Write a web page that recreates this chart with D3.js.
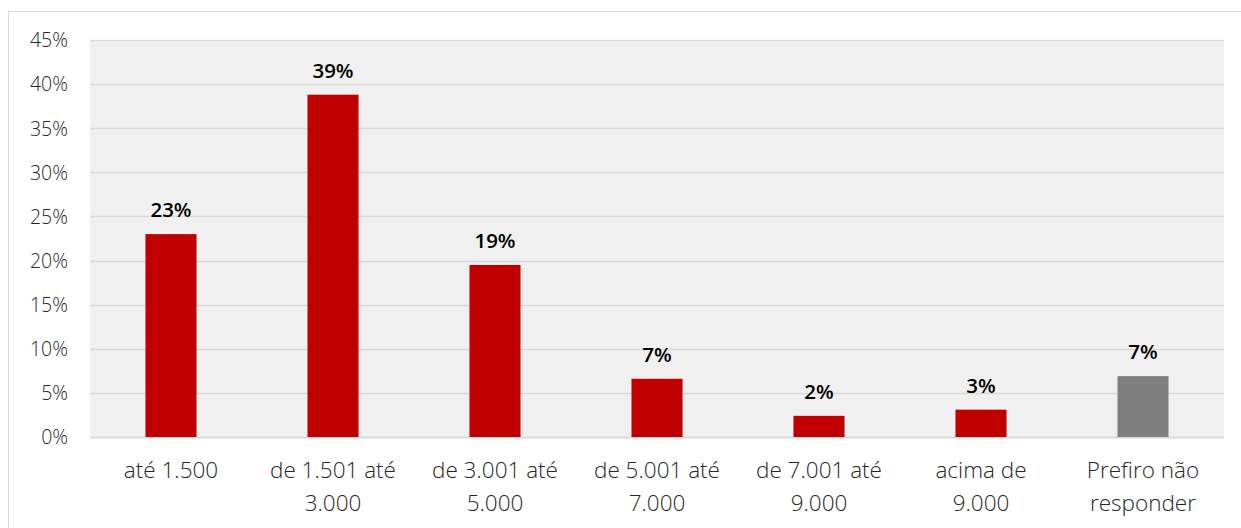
<!DOCTYPE html>
<html>
<head>
<meta charset="utf-8">
<script src="https://cdn.jsdelivr.net/npm/d3@7"></script>
<style>
  body { margin: 0; background: #fff; }
  svg { display: block; }
  .axis text { font-family: "Open Sans", sans-serif; font-weight: 300; fill: #262626; }
</style>
</head>
<body>
<script>
const categories = [
  ["até 1.500"],
  ["de 1.501 até", "3.000"],
  ["de 3.001 até", "5.000"],
  ["de 5.001 até", "7.000"],
  ["de 7.001 até", "9.000"],
  ["acima de", "9.000"],
  ["Prefiro não", "responder"]
];
const values = [23.0, 38.8, 19.5, 6.6, 2.4, 3.1, 6.9];
const labels = ["23%", "39%", "19%", "7%", "2%", "3%", "7%"];
const colors = ["#c00000", "#c00000", "#c00000", "#c00000", "#c00000", "#c00000", "#7f7f7f"];
const yTicks = [0, 5, 10, 15, 20, 25, 30, 35, 40, 45];

const w = 1241, h = 528;
const plot = { left: 90, right: 1224, top: 40, bottom: 437 };

const svg = d3.select("body").append("svg")
  .attr("width", w)
  .attr("height", h);

// chart frame
svg.append("rect")
  .attr("x", 8.5).attr("y", 11.5)
  .attr("width", 1240).attr("height", 530)
  .attr("fill", "none")
  .attr("stroke", "#d9d9d9");

const x = d3.scaleBand()
  .domain(d3.range(categories.length))
  .range([plot.left, plot.right])
  .paddingInner(0.685)
  .paddingOuter(0.3425);

const y = d3.scaleLinear()
  .domain([0, 45])
  .range([plot.bottom, plot.top]);

// plot background
svg.append("rect")
  .attr("x", plot.left).attr("y", plot.top)
  .attr("width", plot.right - plot.left)
  .attr("height", plot.bottom - plot.top)
  .attr("fill", "#f0f0f0");

// gridlines
svg.append("g")
  .selectAll("line")
  .data(yTicks)
  .enter()
  .append("line")
  .attr("x1", plot.left).attr("x2", plot.right)
  .attr("y1", d => Math.round(y(d)) + 0.5)
  .attr("y2", d => Math.round(y(d)) + 0.5)
  .attr("stroke", "#d9d9d9")
  .attr("stroke-width", d => d === 0 ? 2 : 1.5);

// y axis
const yAxis = d3.axisLeft(y).tickValues(yTicks).tickSize(0).tickPadding(22)
  .tickFormat(d => d + "%");
svg.append("g")
  .attr("class", "axis")
  .attr("transform", `translate(${plot.left},0)`)
  .call(yAxis)
  .call(g => g.select(".domain").remove())
  .selectAll("text")
  .attr("font-size", 19.5)
  .attr("dy", "0.35em");

// bars
svg.append("g")
  .selectAll("rect")
  .data(values)
  .enter()
  .append("rect")
  .attr("x", (d, i) => x(i))
  .attr("y", d => y(d))
  .attr("width", x.bandwidth())
  .attr("height", d => y(0) - y(d))
  .attr("fill", (d, i) => colors[i]);

// value labels
svg.append("g")
  .selectAll("text")
  .data(values)
  .enter()
  .append("text")
  .attr("x", (d, i) => x(i) + x.bandwidth() / 2)
  .attr("y", d => y(d) - 17)
  .attr("text-anchor", "middle")
  .attr("font-family", "'Open Sans', sans-serif")
  .attr("font-weight", 600)
  .attr("font-size", 20.5)
  .attr("fill", "#000")
  .text((d, i) => labels[i]);

// category labels
const cat = svg.append("g")
  .attr("class", "axis")
  .selectAll("text")
  .data(categories)
  .enter()
  .append("text")
  .attr("x", (d, i) => x(i) + x.bandwidth() / 2)
  .attr("y", 478)
  .attr("text-anchor", "middle")
  .attr("font-size", 22.5);

cat.selectAll("tspan")
  .data(d => d)
  .enter()
  .append("tspan")
  .attr("x", function () { return this.parentNode.getAttribute("x"); })
  .attr("dy", (d, i) => i === 0 ? 0 : 33)
  .text(d => d);
</script>
</body>
</html>
